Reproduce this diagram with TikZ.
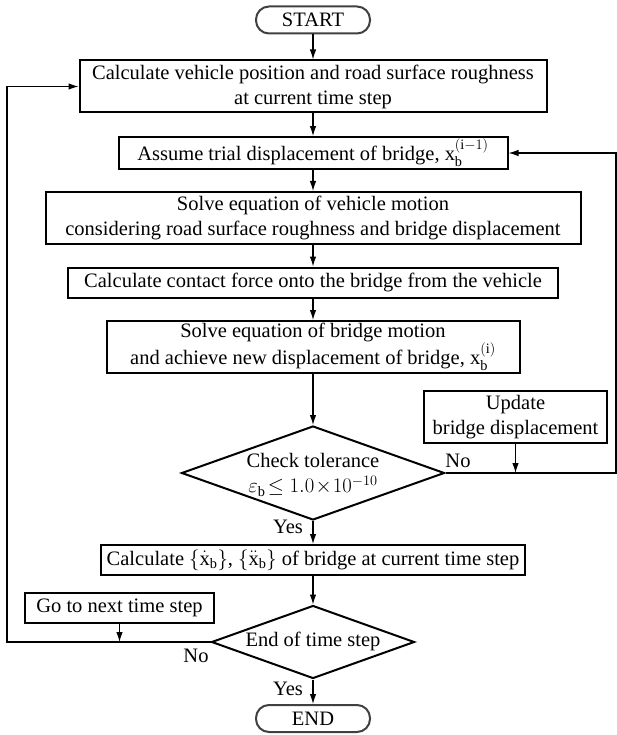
\documentclass[tikz,border=0pt]{standalone}
\usepackage{amsmath}
\usepackage{fontspec}
\setmainfont{Liberation Serif}
\usepackage{tikz}
\usetikzlibrary{arrows.meta,positioning,shapes.geometric,calc}

\begin{document}
\begin{tikzpicture}[x=1pt,y=-1pt,
  every node/.style={font=\fontsize{20.5}{25}\selectfont,align=center,inner sep=2pt},
  box/.style={draw,line width=2pt,minimum height=30pt},
  tbox/.style={box,minimum height=52pt},
  term/.style={draw=black!75,line width=2pt,rounded corners=13pt,minimum width=114pt,minimum height=27pt},
  dec/.style={draw,line width=2pt,diamond,inner sep=0pt},
  lbl/.style={inner sep=0pt},
  arr/.style={line width=1.1pt,-{Latex[length=10pt,width=6.5pt]}}]
\useasboundingbox (0,0) rectangle (616,735);
% main column
\node[term] (start) at (313,20) {START};
\node[tbox,minimum width=467pt] (pos) at (313,86.5) {Calculate vehicle position and road surface roughness\\at current time step};
\node[box,minimum width=389pt] (trial) at (313,153) {Assume trial displacement of bridge, $\mathrm{x}_{\mathrm{b}}^{(\mathrm{i}-1)}$};
\node[tbox,minimum width=535pt] (vmot) at (313,218) {Solve equation of vehicle motion\\considering road surface roughness and bridge displacement};
\node[box,minimum width=490pt] (force) at (313,282.5) {Calculate contact force onto the bridge from the vehicle};
\node[tbox,minimum width=413pt] (bmot) at (313,347) {Solve equation of bridge motion\\and achieve new displacement of bridge, $\mathrm{x}_{\mathrm{b}}^{(\mathrm{i})}$};
\node[dec,minimum width=263pt,minimum height=94pt] (check) at (313,473) {};
\node (checktxt) at (313,475) {Check tolerance\\$\varepsilon_{\mathrm{b}}\!\leq 1.0\!\times\!10^{-10}$};
\node[box,minimum width=424pt] (vel) at (313,560) {Calculate $\{\dot{\mathrm{x}}_{\mathrm{b}}\}$, $\{\ddot{\mathrm{x}}_{\mathrm{b}}\}$ of bridge at current time step};
\node[dec,minimum width=203pt,minimum height=73pt] (last) at (313,642) {};
\node (lasttxt) at (313,641) {End of time step};
\node[term] (end) at (313,718.5) {END};
% side boxes
\node[tbox,minimum width=183pt] (upd) at (515.5,417) {Update\\bridge displacement};
\node[box,minimum width=189pt] (next) at (119.5,608) {Go to next time step};
\coordinate (rgt) at (616,0);
\coordinate (lft) at (7,0);

\draw[arr] (start) -- (pos);
\draw[arr] (pos) -- (trial);
\draw[arr] (trial) -- (vmot);
\draw[arr] (vmot) -- (force);
\draw[arr] (force) -- (bmot);
\draw[arr] (bmot) -- (check);
\draw[arr] (check) -- (vel);
\draw[arr] (vel) -- (last);
\draw[arr] (last) -- (end);
% loops
\draw[arr] (check.east) -- (check.east -| rgt) |- (trial.east);
\draw[arr] (upd) -- (upd |- check.east);
\draw[arr] (last.west) -- (last.west -| lft) |- (pos.west);
\draw[arr] (next) -- (next |- last.west);

\node[lbl] (no1) at (458,461) {No};
\node[lbl] (yes1) at (288,527) {Yes};
\node[lbl] (no2) at (196,656) {No};
\node[lbl] (yes2) at (288,689) {Yes};
\end{tikzpicture}
\end{document}
